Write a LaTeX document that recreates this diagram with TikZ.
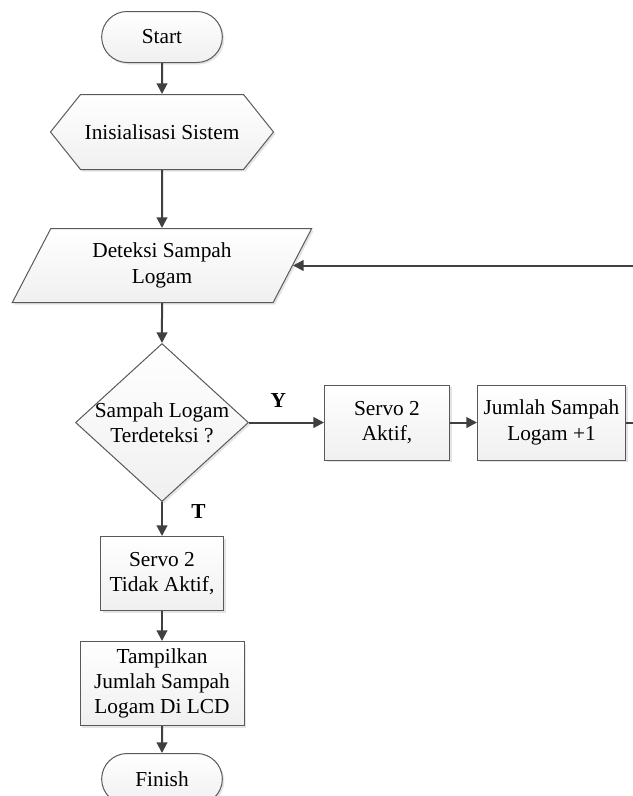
\documentclass[tikz,border=0pt]{standalone}
\usepackage{fontspec}
\setmainfont{Liberation Serif}
\usetikzlibrary{shapes,shapes.geometric,shapes.symbols,shapes.misc,arrows.meta,positioning,calc,shadows}

\begin{document}
\begin{tikzpicture}[
    node distance=0.8cm,
    every node/.style={font=\fontsize{16}{19}\selectfont},
    base/.style={draw=black!65, line width=0.75pt, top color=white, bottom color=black!6,
        drop shadow={shadow xshift=1.5pt, shadow yshift=-1.5pt, opacity=0.3, fill=black!35},
        align=center, inner sep=2pt},
    terminal/.style={base, rounded rectangle, minimum width=94.5pt, minimum height=38.25pt},
    prep/.style={base, signal, signal to=east and west, signal pointer angle=102.7,
        minimum width=167.25pt, minimum height=56.25pt, inner sep=1pt},
    io/.style={base, trapezium, trapezium left angle=63.43, trapezium right angle=116.57,
        trapezium stretches=true, minimum width=225pt, minimum height=55.5pt},
    decision/.style={base, diamond, minimum width=129.75pt, minimum height=118.5pt, inner sep=0pt},
    process/.style={base, rectangle, minimum height=56.25pt, minimum width=#1},
    arrow/.style={-{Triangle[length=8pt,width=8pt]}, line width=1.5pt, black!75},
    answer/.style={font=\fontsize{16}{19}\selectfont\bfseries, inner sep=0pt}
]

\useasboundingbox (0,0) rectangle (474pt,-597pt);

% Start
\node[terminal] (start) at (121.5pt,-27.75pt) {Start};

% Inisialisasi dan deteksi
\node[prep, below=23.25pt of start] (init) {Inisialisasi Sistem};
\node[io, below=43.5pt of init] (deteksi) {Deteksi Sampah\\Logam};

% Keputusan
\node[decision, below=30pt of deteksi] (dec) {};
\node[align=center] at (dec.center) (dectext) {Sampah Logam\\Terdeteksi ?};

% Cabang Y (kanan)
\node[process=93.75pt, right=56.25pt of dec] (servoA) {Servo 2\\Aktif,};
\node[process=111pt, right=20.25pt of servoA] (jumlah) {Jumlah Sampah\\Logam +1};

% Cabang T (bawah)
\node[process=92.25pt, minimum height=55.5pt, below=25.5pt of dec] (servoT) {Servo 2\\Tidak Aktif,};
\node[process=123pt, minimum height=63pt, below=22.5pt of servoT] (tampil) {Tampilkan\\Jumlah Sampah\\Logam Di LCD};
\node[terminal, below=20.25pt of tampil] (finish) {Finish};

% Label jawaban
\node[answer, above right=11.25pt and 16pt of dec.east] (yes) {Y};
\node[answer, below right=1.5pt and 21.75pt of dec.south] (no) {T};

% Alur
\draw[arrow] (start) -- (init);
\draw[arrow] (init) -- (deteksi);
\draw[arrow] (deteksi) -- (dec);
\draw[arrow] (dec.east) -- (servoA);
\draw[arrow] (servoA) -- (jumlah);
\draw[arrow] (dec.south) -- (servoT);
\draw[arrow] (servoT) -- (tampil);
\draw[arrow] (tampil) -- (finish);

% Kembali ke deteksi
\coordinate[right=12pt of jumlah] (loop);
\draw[arrow] (jumlah.east) -- (loop) |- (deteksi.east);

\end{tikzpicture}
\end{document}
